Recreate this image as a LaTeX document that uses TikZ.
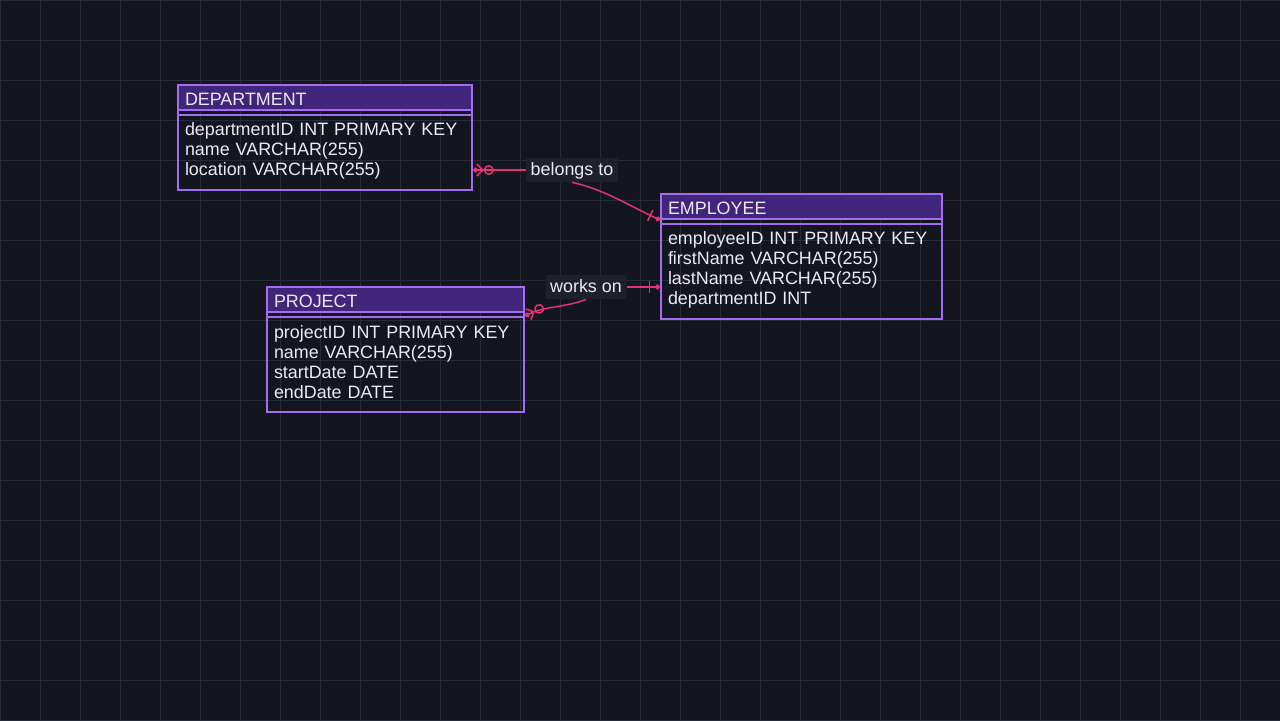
\documentclass[tikz,border=0pt]{standalone}
\usepackage{fontspec}
\setmainfont{Liberation Sans}
\usetikzlibrary{arrows.meta}
\definecolor{canvas}{HTML}{13161F}
\definecolor{gridcol}{HTML}{272B37}
\definecolor{entline}{HTML}{A46CF0}
\definecolor{headfill}{HTML}{40257A}
\definecolor{enttext}{HTML}{ECE8F4}
\definecolor{labelfill}{HTML}{1E212B}
\definecolor{relcol}{HTML}{E5336F}
\newcommand{\entfont}{\fontsize{8.95}{10}\selectfont}
\begin{document}
\begin{tikzpicture}[x=0.5pt,y=-0.5pt,
  gridline/.style={draw=gridcol,line width=0.5pt},
  entityhead/.style={draw=entline,line width=1pt,fill=headfill,text=enttext,
    anchor=north west,inner xsep=3.5pt,inner ysep=0pt,minimum height=12.5pt,
    text height=9pt,text depth=0.8pt,text width=#1,align=left,font=\entfont},
  entitybody/.style={draw=entline,line width=1pt,text=enttext,
    anchor=north west,inner xsep=3.5pt,inner ysep=0pt,text width=#1,
    align=left,font=\entfont},
  divider/.style={draw=entline,line width=1pt},
  rellabel/.style={fill=labelfill,text=enttext,font=\entfont,rounded corners=1pt,
    inner xsep=2.3pt,inner ysep=0pt,minimum height=12pt,text height=6.6pt,text depth=1.6pt},
  rel/.style={draw=relcol,line width=0.75pt},
  many/.style={-{Circle[open,length=5pt,width=5pt] Straight Barb[reversed,length=3pt,width=6pt,sep=-1pt] Circle[length=2.5pt]}},
  one/.style={-{Bar[width=6pt,sep=2.5pt] Circle[length=2.5pt]}}]
  \useasboundingbox (0,0) rectangle (1280,720);
  \fill[canvas] (0,0) rectangle (1280,720);
  \foreach \x in {0,40,...,1280}
    \draw[gridline] (\x,0) -- (\x,720);
  \foreach \y in {0,40,...,720}
    \draw[gridline] (0,\y) -- (1280,\y);

  % entities
  \node[entitybody=140pt,minimum height=52.5pt] (deptattr) at (177,84)
    {\\[9.5pt]departmentID INT PRIMARY KEY\\ name VARCHAR(255)\\ location VARCHAR(255)};
  \node[entityhead=140pt] (dept) at (177,84) {DEPARTMENT};
  \draw[divider] ([yshift=-2pt]dept.south west) -- ([yshift=-2pt]dept.south east);

  \node[entitybody=133.5pt,minimum height=62.5pt] (empattr) at (660,193)
    {\\[9.5pt]employeeID INT PRIMARY KEY\\ firstName VARCHAR(255)\\ lastName VARCHAR(255)\\ departmentID INT};
  \node[entityhead=133.5pt] (emp) at (660,193) {EMPLOYEE};
  \draw[divider] ([yshift=-2pt]emp.south west) -- ([yshift=-2pt]emp.south east);

  \node[entitybody=121.5pt,minimum height=62.5pt] (projattr) at (266,286)
    {\\[9.5pt]projectID INT PRIMARY KEY\\ name VARCHAR(255)\\ startDate DATE\\ endDate DATE};
  \node[entityhead=121.5pt] (proj) at (266,286) {PROJECT};
  \draw[divider] ([yshift=-2pt]proj.south west) -- ([yshift=-2pt]proj.south east);

  % relationships
  \node[rellabel] (belongs) at (572,170) {belongs to};
  \node[rellabel] (works) at (586,287) {works on};

  \draw[rel,many] (belongs.west) -- (deptattr.east |- belongs);
  \draw[rel,one] (belongs.south) .. controls +(30,6) and +(-30,-14) .. (emp.south west);
  \draw[rel,one] (works.east) -- (empattr.west |- works);
  \draw[rel,many] (works.south) .. controls +(-20,8) and +(20,-10) .. ([yshift=-1.5pt]proj.south east);
\end{tikzpicture}
\end{document}
